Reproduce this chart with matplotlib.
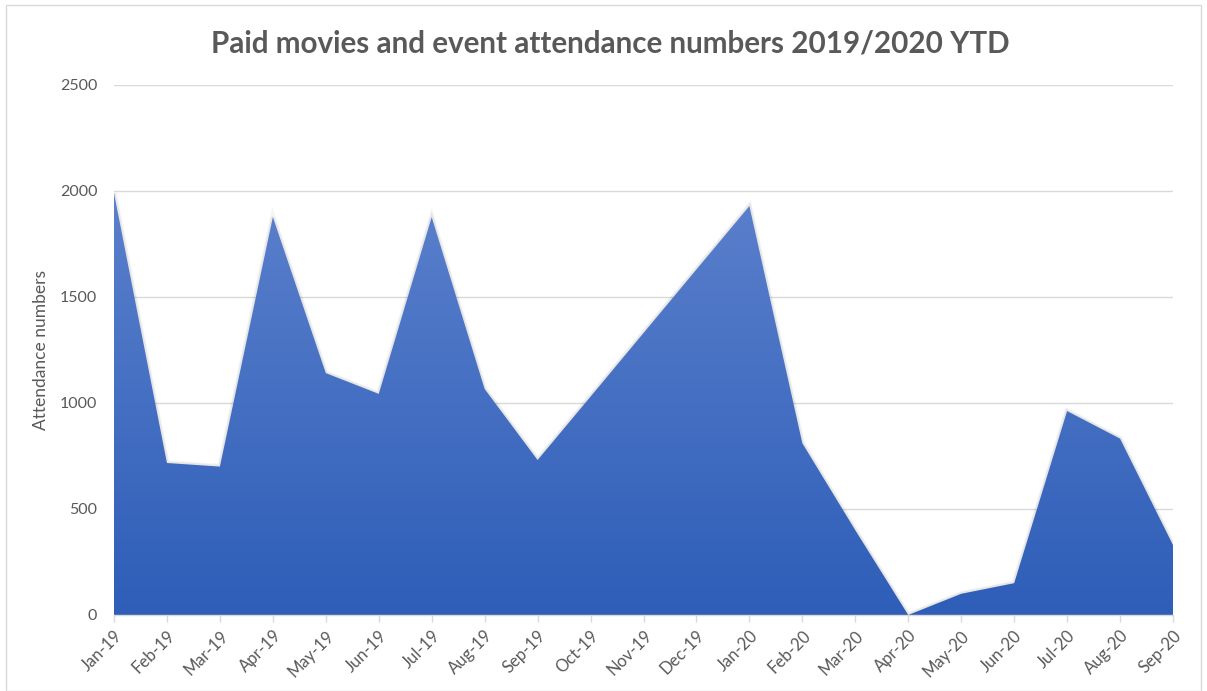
import numpy as np
import matplotlib
matplotlib.use("Agg")
import matplotlib.pyplot as plt
from matplotlib.patches import Polygon, Rectangle
from matplotlib.colors import LinearSegmentedColormap

months = ["Jan-19", "Feb-19", "Mar-19", "Apr-19", "May-19", "Jun-19", "Jul-19",
          "Aug-19", "Sep-19", "Oct-19", "Nov-19", "Dec-19", "Jan-20", "Feb-20",
          "Mar-20", "Apr-20", "May-20", "Jun-20", "Jul-20", "Aug-20", "Sep-20"]
attendance = [1990, 717, 700, 1877, 1141, 1043, 1877, 1066, 731,
              1030, 1330, 1630, 1929, 810, 400, 0, 100, 150, 962, 832, 330]
yticks = [0, 500, 1000, 1500, 2000, 2500]

title = "Paid movies and event attendance numbers 2019/2020 YTD"
ylabel = "Attendance numbers"

plt.rcParams['font.family'] = ['Lato', 'DejaVu Sans']
text_color = "#595959"

fig = plt.figure(figsize=(12.07, 6.91), dpi=100)
ax = fig.add_axes([114/1207, 76/691, (1173-114)/1207, (615-85)/691])

x = np.arange(len(months))
y = np.array(attendance, dtype=float)

# gradient fill clipped to area polygon
verts = [(x[0], 0)] + list(zip(x, y)) + [(x[-1], 0)]
poly = Polygon(verts, closed=True, facecolor='none', edgecolor='none')
ax.add_patch(poly)
cmap = LinearSegmentedColormap.from_list("g", ["#2e5eb8", "#5b80cc"])
grad = np.linspace(0, 1, 256).reshape(-1, 1)
im = ax.imshow(grad, extent=[x[0], x[-1], 0, 2000], origin='lower', aspect='auto',
               cmap=cmap, zorder=2)
im.set_clip_path(poly)

# soft shadow
for lw, a in [(4, 0.04), (2.5, 0.06)]:
    ax.add_patch(Polygon(verts, closed=True, facecolor='none', edgecolor='#000000',
                         linewidth=lw, alpha=a, zorder=1.5))

ax.set_xlim(x[0], x[-1])
ax.set_ylim(0, 2500)
ax.set_yticks(yticks)
ax.set_yticklabels([str(v) for v in yticks])
ax.set_xticks(x)
ax.set_xticklabels(months, rotation=45, ha='right', rotation_mode='anchor')

ax.grid(axis='y', color='#d9d9d9', linewidth=1.0, zorder=0)
ax.set_axisbelow(True)
for s in ['top', 'right', 'left']:
    ax.spines[s].set_visible(False)
ax.spines['bottom'].set_color('#d9d9d9')
ax.spines['bottom'].set_linewidth(1.0)
ax.spines['bottom'].set_zorder(3)

ax.tick_params(axis='y', length=0, pad=12, labelsize=11.5, labelcolor=text_color)
ax.tick_params(axis='x', length=5, color='#d9d9d9', width=1, pad=4,
               labelsize=12, labelcolor=text_color)

ax.set_ylabel(ylabel, fontsize=12.5, color=text_color, labelpad=8)

fig.text(610/1207, 1 - 44/691, title, ha='center', va='center', fontsize=21.3,
         fontweight='bold', color=text_color)

# outer chart border
fig.patches.append(Rectangle((6/1207, 0), 1195/1207, 1 - 5/691,
                             transform=fig.transFigure, fill=False,
                             edgecolor='#d9d9d9', linewidth=1.0))

fig.savefig("out.png", dpi=100)
